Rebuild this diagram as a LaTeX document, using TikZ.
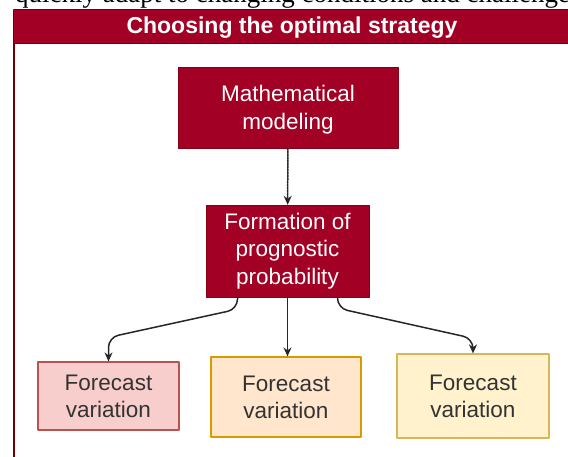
\documentclass[tikz,border=0pt]{standalone}
\usepackage{fontspec}
\setmainfont{Liberation Sans}
\newfontfamily\bodyserif{Liberation Serif}
\usetikzlibrary{arrows.meta,positioning}
\definecolor{crimson}{HTML}{A20025}
\definecolor{crimsonline}{HTML}{6F0000}
\definecolor{pinkfill}{HTML}{F8CECC}
\definecolor{pinkline}{HTML}{B85450}
\definecolor{orangefill}{HTML}{FFE6CC}
\definecolor{orangeline}{HTML}{D79B00}
\definecolor{yellowfill}{HTML}{FFF2CC}
\definecolor{yellowline}{HTML}{D6B656}
\tikzset{flowchart/.style={
  x=1pt,y=-1pt,
  >={Stealth[length=9pt,width=8pt]},line join=round,line cap=round
},
  redbox/.style={fill=crimson,draw=crimsonline!50!crimson,text=white,align=center,
    inner sep=0pt,font=\fontsize{22.5}{27.5}\selectfont},
  variant/.style={fill=#1fill,draw=#1line,line width=1.2pt,text=black!80,align=center,
    inner sep=0pt,font=\fontsize{22.5}{27}\selectfont},
  link/.style={->,line width=1.5pt,black!85,rounded corners=10pt}
}

\begin{document}
\begin{tikzpicture}[flowchart]
  \useasboundingbox (0,0) rectangle (568,457);
  \clip (0,0) rectangle (568,457);
  \coordinate (M) at (288,107.5);
  \coordinate (F) at (287.5,251);
  \coordinate (V1) at (108.5,396);
  \coordinate (V2) at (286,397);
  \coordinate (V3) at (473,396);

  \node[anchor=base west,font=\bodyserif\fontsize{27}{30}\selectfont,inner sep=0pt]
    (context) at (15,2.5) {quickly adapt to changing conditions and challenges};
  \draw[draw=crimsonline,line width=2pt] (14,10) rectangle (570,470);
  \fill[crimson] (14,10) rectangle (570,44);
  \draw[crimsonline,line width=1pt] (14,44) -- (570,44);
  \node[text=white,font=\bfseries\fontsize{23}{27}\selectfont] (title) at (292,27.5)
    {Choosing the optimal strategy};

  \node[redbox,minimum width=220pt,minimum height=81pt] (model) at (M)
    {\rule{0pt}{21pt}Mathematical\\modeling};
  \node[redbox,minimum width=163pt,minimum height=92pt] (forming) at (F)
    {Formation of\\prognostic\\probability};
  \node[variant=pink,minimum width=141pt,minimum height=68pt] (varA) at (V1)
    {Forecast\\variation};
  \node[variant=orange,minimum width=150pt,minimum height=80pt] (varB) at (V2)
    {Forecast\\variation};
  \node[variant=yellow,minimum width=152pt,minimum height=84pt] (varC) at (V3)
    {Forecast\\variation};

  \draw[link,dash pattern=on 2pt off 1pt] (model) -- (forming);
  \draw[link] ([xshift=-50pt]forming.south) -- ++(0,12) -- ([yshift=24pt]varA.north)
    -- (varA.north);
  \draw[link] (forming.south) -- (forming.south |- varB.north);
  \draw[link] ([xshift=50pt]forming.south) -- ++(0,11) -- ([yshift=15pt]varC.north)
    -- (varC.north);
\end{tikzpicture}
\end{document}
